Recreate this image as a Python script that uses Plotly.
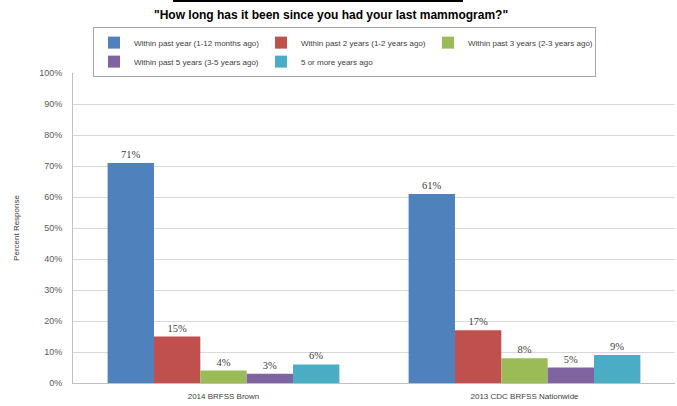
import plotly.graph_objects as go

categories = ["2014 BRFSS Brown", "2013 CDC BRFSS Nationwide"]
series_names = [
    "Within past year (1-12 months ago)",
    "Within past 2 years (1-2 years ago)",
    "Within past 3 years (2-3 years ago)",
    "Within past 5 years (3-5 years ago)",
    "5 or more years ago",
]
within_1yr = [71, 61]
within_2yr = [15, 17]
within_3yr = [4, 8]
within_5yr = [3, 5]
five_plus = [6, 9]
colors = ["#4F81BD", "#C0504D", "#9BBB59", "#8064A2", "#4BACC6"]

series_values = [within_1yr, within_2yr, within_3yr, within_5yr, five_plus]
y_ticks = list(range(0, 101, 10))
y_ticklabels = [f"{v}%" for v in y_ticks]

fig = go.Figure()
for name, vals, col in zip(series_names, series_values, colors):
    fig.add_trace(go.Bar(
        x=categories, y=vals, name=name,
        marker=dict(color=col, line=dict(width=0)),
        texttemplate="%{y}%", textposition="outside", cliponaxis=False,
        textfont=dict(family="Liberation Serif", size=10.5, color="#404040"),
    ))

L, R, T, B = 73, 2, 73, 23
fig.update_layout(
    width=677, height=406,
    margin=dict(l=L, r=R, t=T, b=B),
    paper_bgcolor="white", plot_bgcolor="white",
    barmode="group", bargap=0.23, bargroupgap=0,
    font=dict(family="Liberation Sans", size=8, color="#404040"),
    title=dict(text='<b>"How long has it been since you had your last mammogram?"</b>',
               x=0.489, xanchor="center", y=0.963, yanchor="middle",
               font=dict(family="Liberation Sans", size=12, color="#000000")),
    legend=dict(orientation="h", x=(93 - L) / 602, xanchor="left", y=1.148, yanchor="top",
                entrywidth=122, entrywidthmode="pixels", itemwidth=30,
                bordercolor="#A6A6A6", borderwidth=1, bgcolor="white",
                font=dict(family="Liberation Sans", size=8, color="#404040"),
                traceorder="normal", itemclick=False),
    showlegend=True,
    xaxis=dict(showline=True, linecolor="#BFBFBF", linewidth=1, ticks="",
               ticklabelstandoff=5,
               tickfont=dict(size=8, color="#404040"), fixedrange=True),
    yaxis=dict(range=[0, 100], tickvals=y_ticks, ticktext=y_ticklabels,
               showgrid=True, gridcolor="#D9D9D9", gridwidth=1,
               showline=True, linecolor="#BFBFBF", linewidth=1,
               zeroline=False, ticks="", ticklabelstandoff=8,
               tickfont=dict(size=9, color="#595959"),
               title=dict(text="Percent Response", standoff=18,
                          font=dict(size=8, color="#404040"))),
    shapes=[dict(type="line", xref="paper", yref="paper",
                 x0=(173 - L) / 602, x1=(463 - L) / 602,
                 y0=(383 - 1) / 310, y1=(383 - 1) / 310,
                 line=dict(color="black", width=2))],
)

fig.write_html("out.html", config={"displayModeBar": False},
               post_script="document.body.style.margin='0';")
